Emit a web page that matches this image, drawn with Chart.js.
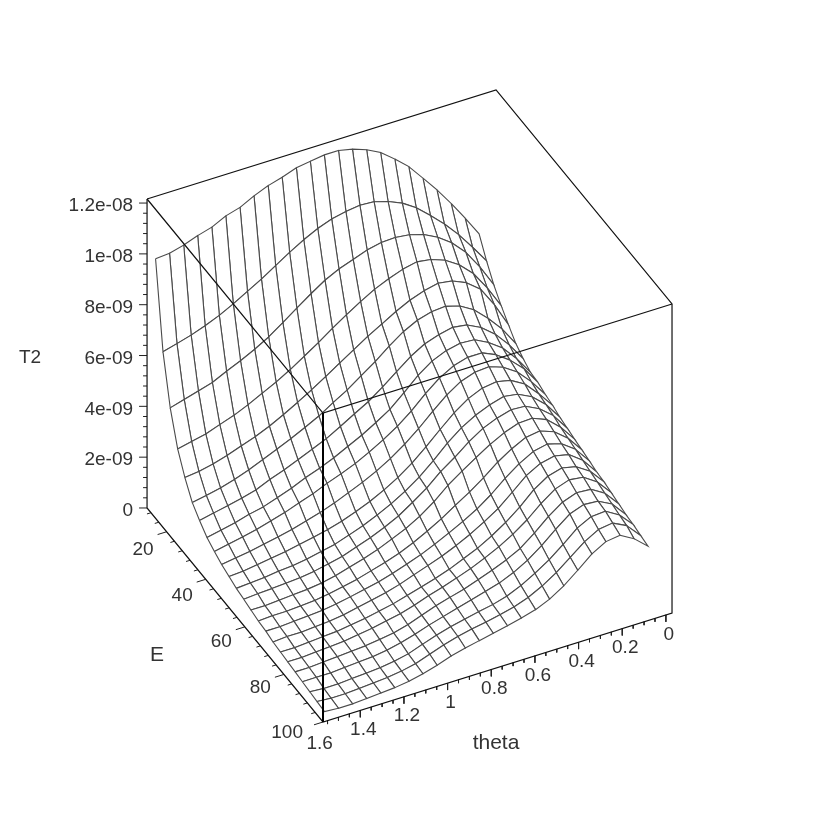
<!DOCTYPE html>
<html>
<head>
<meta charset="utf-8">
<title>T2 surface</title>
<script src="https://cdn.jsdelivr.net/npm/chart.js@4/dist/chart.umd.min.js"></script>
<style>
  html, body { margin: 0; padding: 0; background: #fff; }
  #plot { display: block; }
</style>
</head>
<body>
<canvas id="plot" width="817" height="817"></canvas>
<script>
// Values
const thetaValues = [1.564, 1.500, 1.435, 1.371, 1.306, 1.242, 1.177, 1.113, 1.048, 0.984, 0.919, 0.855,
    0.791, 0.726, 0.662, 0.597, 0.533, 0.468, 0.404, 0.339, 0.275, 0.210, 0.146, 0.082];
const energyValues = [13.6, 17.4, 21.1, 24.9, 28.6, 32.4, 36.1, 39.9, 43.7, 47.4, 51.2, 54.9,
    58.7, 62.4, 66.2, 70.0, 73.7, 77.5, 81.2, 85.0, 88.7, 92.5, 96.2, 100];

// T2 in units of 1e-10, one row per energy value, one column per theta value
const t2Rows = [
    [101.3,101.7,103.2,105.2,106.8,109.5,111.1,113.9,116.2,117.8,119.8,120.6,121.4,121.4,120.2,118.2,115.4,111.1,106.4,100.1,93.8,86.7,79.2,71.3],
    [68.2,69.7,71.3,73.3,75.6,78.4,81.6,84.7,88.3,91.8,95,97.7,99.7,100.9,101.7,101.3,99.7,97.3,93.8,89,83.9,78,71.3,64.2],
    [49.6,51.2,52.8,54.4,57.1,59.5,62.3,65.4,69.3,73.3,77.2,80.8,83.5,85.5,87.5,88.7,89,88.3,86.7,83.9,80,74.5,67,58.3],
    [37,38.2,39.4,41.4,43.3,45.7,48.5,51.2,54.4,57.9,61.5,65.4,69,72.5,75.6,78,80,81.2,80.4,78.4,74.9,69.7,62.3,53.6],
    [29.2,29.9,31.1,32.7,34.7,36.6,39,41.8,44.9,48.1,51.6,55.2,58.7,62.3,65.4,68.6,71.3,73.3,74.5,73.7,71.3,67,59.1,49.6],
    [22.9,24,25.2,26.8,28.8,31.1,33.5,35.9,38.6,41.4,44.9,48.1,52,55.9,60.3,64.2,67,68.6,69,67.4,64.2,59.1,53.2,45.7],
    [19.3,20.5,21.7,22.9,24.4,26.8,28.8,31.1,33.5,35.9,39,42.2,45.3,49.3,53.6,57.9,61.1,63,64.2,63.4,60.7,56.3,50.4,43.3],
    [16.2,17.3,18.5,20.1,21.3,23.2,25.2,27.6,29.6,31.9,34.7,37.4,40.6,44.1,48.9,54,57.9,60.3,61.5,61.1,58.3,54.4,48.5,41.4],
    [14.2,15.4,16.5,17.7,19.3,20.9,22.9,24.8,27.2,29.2,31.5,34.3,37.4,41,45.3,50.4,54.8,57.9,59.5,59.5,57.1,53.2,48.1,41],
    [12.6,13.4,14.2,15.4,16.5,17.7,19.3,20.9,22.9,25.2,27.6,30.3,33.5,37.4,41.8,46.9,51.6,55.2,57.1,57.5,55.6,52,46.5,39.8],
    [11.4,11.8,12.6,13.4,14.2,15.4,16.5,17.7,19.3,21.3,23.6,26.4,29.6,33.5,38.2,43.3,48.1,52,54.4,55.2,54,50.8,45.3,39],
    [10.2,10.6,11,11.8,12.2,13,14.2,15.4,17.3,19.3,21.7,24.4,27.6,31.5,36.2,41.4,45.7,48.9,51.2,52.8,52,49.3,44.5,37.8],
    [9.5,9.9,10.2,10.6,11,11.8,13,14.2,16.2,18.1,20.5,23.2,26.8,30.7,35.5,39.4,43.7,47.3,49.6,51.2,50.8,48.1,43.7,37],
    [8.7,8.7,9.1,9.5,9.9,10.6,11.8,13.4,15,16.9,19.3,21.7,24.8,28.8,33.5,37.4,41,44.5,47.3,49.3,49.6,47.3,42.6,36.2],
    [7.9,8.3,8.3,8.7,9.1,9.9,11,12.2,13.8,15.4,17.3,19.7,22.5,25.6,29.2,32.7,36.6,41,44.5,47.3,48.1,46.1,41.8,35.5],
    [7.5,7.5,7.9,8.3,8.7,9.5,10.6,11.8,13,14.6,16.5,18.5,20.9,23.6,26.4,29.6,33.5,38.2,42.2,45.3,46.5,44.9,41,34.7],
    [6.7,7.1,7.1,7.5,7.9,8.7,9.9,11,12.2,13.8,15.8,17.7,19.7,22.1,24.8,28,31.5,36.2,41,44.1,45.3,44.1,40.2,33.9],
    [6.3,6.3,6.7,7.1,7.5,8.3,9.1,10.2,11.4,13,14.6,16.2,18.1,20.5,22.9,26,29.6,33.9,39,42.6,44.1,42.9,39.4,33.5],
    [5.9,5.9,6.3,6.7,7.1,7.9,8.7,9.9,11,12.6,14.6,16.2,18.1,20.1,22.5,25.2,28.4,32.3,37,41,42.9,42.2,38.6,32.7],
    [5.5,5.5,5.9,6.3,6.7,7.1,7.9,8.7,10.2,12.2,14.2,15.8,17.3,19.3,21.3,23.6,26.4,30.7,35.5,39.4,41.4,41,37.8,31.9],
    [5.1,5.1,5.1,5.5,5.9,6.3,7.1,8.3,9.9,11.8,13.4,15,16.5,18.1,19.7,22.1,25.2,29.2,33.9,38.2,40.2,39.8,37,31.1],
    [4.7,4.3,4.3,4.7,5.1,5.5,6.3,7.5,9.5,11.4,13,14.2,15.4,16.5,18.1,20.5,23.6,27.2,31.5,36.2,39,39.4,36.2,30.7],
    [4.3,3.9,3.9,4.3,4.7,5.1,5.9,7.1,9.1,11,12.6,13.8,14.8,16,17.3,19.3,22.1,25.6,29.9,34.3,37.4,38.2,35.5,29.9],
    [3.9,3.5,3.5,3.9,4.3,4.7,5.5,6.7,8.3,10.2,11.6,12.8,14,15.2,16.5,18.1,20.5,24,28.4,33.1,36.2,37,33.9,29.2]
];

// Axis ranges and tick labels
const thetaRange = [-0.028, 1.5708];
const energyRange = [10, 100];
const t2Range = [0, 1.216e-8];
const t2Ticks = [0, 2e-9, 4e-9, 6e-9, 8e-9, 1e-8, 1.2e-8];
const t2TickLabels = ['0', '2e-09', '4e-09', '6e-09', '8e-09', '1e-08', '1.2e-08'];
const energyTicks = [20, 40, 60, 80, 100];
const thetaTicks = [0, 0.2, 0.4, 0.6, 0.8, 1, 1.2, 1.4, 1.6];
const thetaTickLabels = ['0', '0.2', '0.4', '0.6', '0.8', '1', '1.2', '1.4', '1.6'];

// Fixed view of the box, page units per data unit
function project(theta, energy, t2) {
    const dTheta = thetaRange[1] - theta;
    const dEnergy = energyRange[1] - energy;
    return {
        x: 323 + dTheta * 218.3 - dEnergy * 1.955,
        y: 722 - dTheta * 68.2 - dEnergy * 2.378 - t2 * 2.541e10
    };
}

function lineSet(points, color, width) {
    return {
        data: points,
        showLine: true,
        fill: false,
        pointRadius: 0,
        borderColor: color,
        borderWidth: width,
        tension: 0
    };
}

const datasets = [];
const [thMin, thMax] = thetaRange;
const [enMin, enMax] = energyRange;
const t2Top = t2Range[1];

// Box edges that sit in front of the surface
datasets.push(lineSet([project(thMax, enMax, 0), project(thMax, enMax, t2Top)], '#000', 2));
datasets.push(lineSet([project(thMax, enMin, t2Top), project(thMax, enMax, t2Top), project(thMin, enMax, t2Top)], '#111', 1.2));

// Surface cells, nearest first because Chart.js paints the first dataset last
for (let i = 0; i < thetaValues.length - 1; i++) {
    for (let j = energyValues.length - 2; j >= 0; j--) {
        const corner = (a, b) => project(thetaValues[a], energyValues[b], t2Rows[b][a] * 1e-10);
        const cell = lineSet([corner(i, j), corner(i + 1, j), corner(i + 1, j + 1), corner(i, j + 1), corner(i, j)], '#4a4a4a', 1.1);
        cell.fill = 'shape';
        cell.backgroundColor = '#fff';
        datasets.push(cell);
    }
}

// Remaining box edges
datasets.push(lineSet([project(thMax, enMin, t2Top), project(thMin, enMin, t2Top), project(thMin, enMax, t2Top), project(thMin, enMax, 0), project(thMax, enMax, 0), project(thMax, enMin, 0), project(thMax, enMin, t2Top)], '#111', 1.2));

// Tick stubs
for (let k = 0; k <= 30; k++) {
    const p = project(thMax, enMin, k * 4e-10);
    const len = k % 5 === 0 ? 8 : 4;
    datasets.push(lineSet([p, { x: p.x - len, y: p.y }], '#222', 1));
}
for (let e = 12; e <= 100; e += 4) {
    const p = project(thMax, e, 0);
    const major = e % 20 === 0;
    datasets.push(lineSet([p, { x: p.x - (major ? 9 : 4), y: p.y + (major ? 2.8 : 1.2) }], '#222', 1));
}
for (let k = 0; k <= 31; k++) {
    const p = project(k * 0.05, enMax, 0);
    datasets.push(lineSet([p, { x: p.x, y: p.y + (k % 4 === 0 ? 7 : 3.5) }], '#222', 1));
}

const axisTextPlugin = {
    id: 'axisText',
    afterDraw(chart) {
        const { ctx, scales } = chart;
        const put = (text, x, y, align, size) => {
            ctx.font = (size || 19) + 'px "Liberation Sans", Arial, sans-serif';
            ctx.textAlign = align;
            ctx.fillText(text, scales.x.getPixelForValue(x), scales.y.getPixelForValue(y));
        };
        ctx.save();
        ctx.fillStyle = '#333';
        ctx.textBaseline = 'middle';
        t2Ticks.forEach((v, k) => {
            const p = project(thMax, enMin, v);
            put(t2TickLabels[k], p.x - 14, p.y + 3, 'right');
        });
        energyTicks.forEach(v => {
            const p = project(thMax, v, 0);
            if (v === 100) put(String(v), p.x - 20, p.y + 11, 'right');
            else put(String(v), p.x - 13, p.y + 15 + (60 - v) * 0.08, 'right');
        });
        thetaTicks.forEach((v, k) => {
            const p = project(v, enMax, 0);
            put(thetaTickLabels[k], p.x + 3, p.y + 19.5, 'center');
        });
        put('T2', 30, 358, 'center');
        put('E', 157, 655, 'center', 21);
        put('theta', 496, 743, 'center', 21);
        ctx.restore();
    }
};

new Chart(document.getElementById('plot').getContext('2d'), {
    type: 'scatter',
    data: { datasets: datasets },
    options: {
        responsive: false,
        animation: false,
        events: [],
        layout: { padding: 0 },
        plugins: { legend: { display: false }, tooltip: { enabled: false } },
        scales: {
            x: { type: 'linear', min: 0, max: 817, display: false },
            y: { type: 'linear', min: 0, max: 817, reverse: true, display: false }
        }
    },
    plugins: [axisTextPlugin]
});
</script>
</body>
</html>
